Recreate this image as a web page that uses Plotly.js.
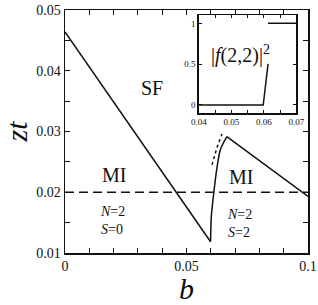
<!DOCTYPE html>
<html>
<head>
<meta charset="utf-8">
<script src="https://cdn.plot.ly/plotly-3.0.1.min.js"></script>
<style>html,body{margin:0;padding:0;background:#fff;}#chart{width:318px;height:305px;}</style>
</head>
<body>
<div id="chart"></div>
<script>
// Main panel: phase boundary zt(b)
const bLineLeft = [0, 0.0599];
const ztLineLeft = [0.0464, 0.01186];
const bCurve = [0.0599, 0.0602, 0.0612, 0.0626, 0.0639, 0.0654, 0.0666];
const ztCurve = [0.01186, 0.01598, 0.01984, 0.02422, 0.02697, 0.02829, 0.02917];
const bLineRight = [0.0666, 0.1];
const ztLineRight = [0.02917, 0.0193];
const bDotted = [0.0605, 0.0625, 0.0646];
const ztDotted = [0.0245, 0.0273, 0.0296];
const bDashed = [0, 0.1];
const ztDashed = [0.02, 0.02];

// Inset: |f(2,2)|^2 vs b
const bInsetLow = [0.04, 0.0598, 0.0613];
const fInsetLow = [0, 0, 0.503];
const bInsetHigh = [0.0613, 0.07];
const fInsetHigh = [1, 1];

// Tick labels and minor tick positions
const xTickVals = [0, 0.05, 0.1];
const xTickText = ['0', '0.05', '0.1'];
const xMinorVals = [0.01,0.02,0.03,0.04,0.06,0.07,0.08,0.09];
const yTickVals = [0.01,0.02,0.03,0.04,0.05];
const yTickText = ['0.01','0.02','0.03','0.04','0.05'];
const yMinorVals = [0.015,0.025,0.035,0.045];
const x2TickVals = [0.04,0.05,0.06,0.07];
const x2TickText = ['0.04','0.05','0.06','0.07'];
const x2MinorVals = [0.045,0.055,0.065];
const y2TickVals = [0,0.5,1];
const y2TickText = ['0','0.5','1'];

const serif = 'Liberation Serif';
const black = '#111';
const lw = 1.5;

const traces = [
  {x: bLineLeft, y: ztLineLeft, mode: 'lines', line: {color: black, width: lw}, xaxis: 'x', yaxis: 'y'},
  {x: bCurve, y: ztCurve, mode: 'lines', line: {color: black, width: lw, shape: 'spline', smoothing: 0.6}, xaxis: 'x', yaxis: 'y'},
  {x: bLineRight, y: ztLineRight, mode: 'lines', line: {color: black, width: lw}, xaxis: 'x', yaxis: 'y'},
  {x: bDotted, y: ztDotted, mode: 'lines', line: {color: black, width: lw, dash: 'dot'}, xaxis: 'x', yaxis: 'y'},
  {x: bDashed, y: ztDashed, mode: 'lines', line: {color: black, width: lw, dash: '9px,5px'}, xaxis: 'x', yaxis: 'y'},
  {x: bInsetLow, y: fInsetLow, mode: 'lines', line: {color: black, width: lw}, xaxis: 'x2', yaxis: 'y2'},
  {x: bInsetHigh, y: fInsetHigh, mode: 'lines', line: {color: black, width: lw}, xaxis: 'x2', yaxis: 'y2'}
];

function ax(extra, minorVals, len) {
  return Object.assign({
    showgrid: false, zeroline: false, showline: true, linecolor: black, linewidth: lw,
    ticks: 'inside', mirror: 'allticks', tickcolor: black, tickwidth: 1, tickmode: 'array', ticklen: len,
    minor: {tickmode: 'array', tickvals: minorVals, ticks: 'inside', ticklen: len, tickcolor: black, tickwidth: 1, showgrid: false}
  }, extra);
}

const layout = {
  width: 318, height: 305,
  margin: {l: 64.5, r: 10.3, t: 10.3, b: 52, pad: 0},
  paper_bgcolor: '#fff', plot_bgcolor: '#fff',
  showlegend: false,
  font: {family: serif, color: black},
  xaxis: ax({
    range: [0, 0.1], tickvals: xTickVals, ticktext: xTickText,
    tickfont: {family: serif, size: 14, color: black},
    title: {text: '<i>b</i>', font: {family: serif, size: 30, color: black}, standoff: 0}
  }, xMinorVals, 5),
  yaxis: ax({
    range: [0.01, 0.05], tickvals: yTickVals, ticktext: yTickText,
    tickfont: {family: serif, size: 14, color: black},
    title: {text: '<i>zt</i>', font: {family: serif, size: 30, color: black}, standoff: 4}
  }, yMinorVals, 5),
  xaxis2: ax({
    domain: [0.551, 0.952], anchor: 'y2', range: [0.04, 0.07],
    tickvals: x2TickVals, ticktext: x2TickText,
    tickfont: {family: serif, size: 9, color: black}
  }, x2MinorVals, 3),
  yaxis2: ax({
    domain: [0.5756, 0.9786], anchor: 'x2', range: [-0.1, 1.1],
    tickvals: y2TickVals, ticktext: y2TickText,
    tickfont: {family: serif, size: 9, color: black}
  }, [], 3),
  annotations: [
    {xref: 'x', yref: 'y', x: 0.0357, y: 0.0371, text: 'SF', showarrow: false, font: {family: serif, size: 20, color: black}},
    {xref: 'x', yref: 'y', x: 0.0201, y: 0.0228, text: 'MI', showarrow: false, font: {family: serif, size: 20, color: black}},
    {xref: 'x', yref: 'y', x: 0.0197, y: 0.01684, text: '<i>N</i>=2', showarrow: false, font: {family: serif, size: 14, color: black}},
    {xref: 'x', yref: 'y', x: 0.0193, y: 0.01387, text: '<i>S</i>=0', showarrow: false, font: {family: serif, size: 14, color: black}},
    {xref: 'x', yref: 'y', x: 0.0723, y: 0.02244, text: 'MI', showarrow: false, font: {family: serif, size: 20, color: black}},
    {xref: 'x', yref: 'y', x: 0.0718, y: 0.01626, text: '<i>N</i>=2', showarrow: false, font: {family: serif, size: 14, color: black}},
    {xref: 'x', yref: 'y', x: 0.0715, y: 0.0133, text: '<i>S</i>=2', showarrow: false, font: {family: serif, size: 14, color: black}},
    {xref: 'x2', yref: 'y2', x: 0.0528, y: 0.615, text: '|<i>f</i>(2,2)|<sup>2</sup>', showarrow: false, font: {family: serif, size: 20, color: black}}
  ]
};

Plotly.newPlot('chart', traces, layout, {staticPlot: true, displayModeBar: false});
</script>
</body>
</html>
